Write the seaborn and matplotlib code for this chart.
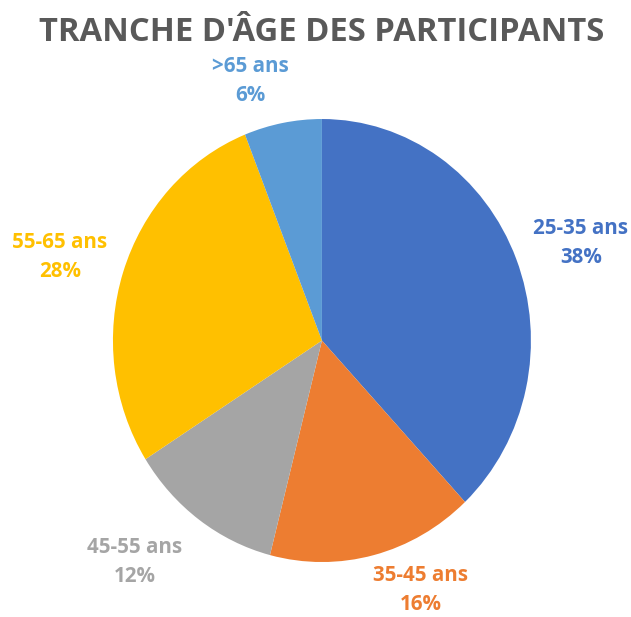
import matplotlib.pyplot as plt
import seaborn as sns

# Age brackets and their share of participants (%)
age_groups = ["25-35 ans", "35-45 ans", "45-55 ans", "55-65 ans", ">65 ans"]
shares = [38, 16, 12, 28, 6]
colors = ["#4472C4", "#ED7D31", "#A5A5A5", "#FFC000", "#5B9BD5"]

# label centres in data units (pie radius = 1)
label_pos = [(1.239, 0.439), (0.474, -1.125), (-0.895, -1.0), (-1.254, 0.376), (-0.344, 1.172)]

sns.set_style("white")
plt.rcParams['font.family'] = ['Open Sans', 'DejaVu Sans']

fig = plt.figure(figsize=(6.31, 6.17), dpi=100)
ax = fig.add_axes([0.179, 0.0891, 0.6624, 0.718])

ax.pie(shares, colors=colors, startangle=90, counterclock=False,
       wedgeprops=dict(linewidth=0))
ax.set_aspect('auto')
ax.set_xlim(-1, 1)
ax.set_ylim(-1, 1)
ax.axis('off')

for name, val, col, (x, y) in zip(age_groups, shares, colors, label_pos):
    ax.text(x, y, f"{name}\n{val}%", color=col, fontsize=14.8, fontweight='bold',
            ha='center', va='center', linespacing=1.5, clip_on=False)

fig.text(0.510, 0.948, "TRANCHE D'ÂGE DES PARTICIPANTS", ha='center', va='center',
         fontsize=23.6, fontweight='bold', color='#595959')

fig.savefig('out.png', dpi=100)
